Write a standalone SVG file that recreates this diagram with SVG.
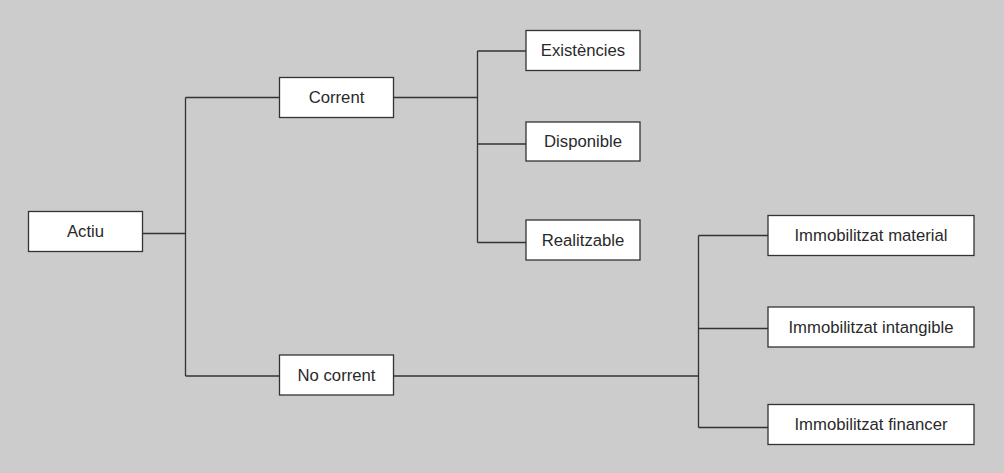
<svg xmlns="http://www.w3.org/2000/svg" width="1004" height="473" viewBox="0 0 1004 473">
<style>
.box{fill:#ffffff;stroke:#333333;stroke-width:1.3}
.lbl{font-family:"Liberation Sans",Arial,sans-serif;font-size:16.7px;fill:#2a2a2a;text-anchor:middle;dominant-baseline:central}
.con{fill:none;stroke:#333333;stroke-width:1.3}
</style>
<rect width="1004" height="473" fill="#cccccc"/>
<g id="connectors">
<path class="con" d="M143 233.5H185.5M185.5 97.5V376M185.5 97.5H279.5M185.5 376H279.5"/>
<path class="con" d="M393.5 97.5H477.5M477.5 51V242.5M477.5 51H526M477.5 144H526M477.5 242.5H526"/>
<path class="con" d="M393.5 376H698.5M698.5 235.5V427.5M698.5 235.5H768M698.5 328.5H768M698.5 427.5H768"/>
</g>
<g id="actiu"><rect class="box" x="28.5" y="211.5" width="114" height="40"/><text class="lbl" x="85.5" y="231.5">Actiu</text></g>
<g id="corrent"><rect class="box" x="279.5" y="77.5" width="114" height="40"/><text class="lbl" x="336.5" y="97.5">Corrent</text></g>
<g id="no-corrent"><rect class="box" x="279.5" y="355" width="114" height="40"/><text class="lbl" x="336.5" y="375">No corrent</text></g>
<g id="existencies"><rect class="box" x="526" y="30.5" width="114" height="40"/><text class="lbl" x="583" y="50.5">Existències</text></g>
<g id="disponible"><rect class="box" x="526" y="122" width="114" height="39"/><text class="lbl" x="583" y="141.5">Disponible</text></g>
<g id="realitzable"><rect class="box" x="526" y="220" width="114" height="40"/><text class="lbl" x="583" y="240">Realitzable</text></g>
<g id="imm-material"><rect class="box" x="768" y="215.5" width="206" height="40"/><text class="lbl" x="871" y="235.5">Immobilitzat material</text></g>
<g id="imm-intangible"><rect class="box" x="768" y="307" width="206" height="40"/><text class="lbl" x="871" y="327">Immobilitzat intangible</text></g>
<g id="imm-financer"><rect class="box" x="768" y="404.5" width="206" height="40"/><text class="lbl" x="871" y="424.5">Immobilitzat financer</text></g>
</svg>
